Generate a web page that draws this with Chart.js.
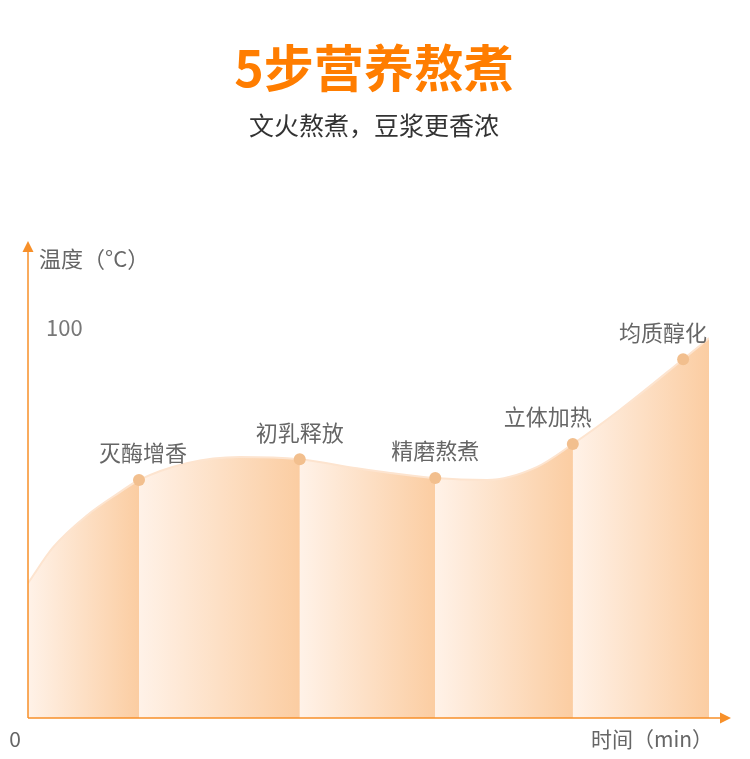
<!DOCTYPE html>
<html>
<head>
<meta charset="utf-8">
<script src="https://cdn.jsdelivr.net/npm/chart.js@4.4.1/dist/chart.umd.min.js"></script>
<style>
  html, body { margin: 0; padding: 0; background: #fff; }
  #chart { display: block; }
</style>
</head>
<body>
<canvas id="chart" width="750" height="759"></canvas>
<script>
// Curve (time in % of the run, temperature in °C)
const timeValues = [0, 3.7, 8.7, 13.5, 16.3, 23.3, 31.1, 39.9, 48.3, 53.2, 59.8, 67.4, 74.7, 80.0, 86.9, 96.2, 100];
const tempValues = [34.5, 43.7, 51.9, 57.8, 60.9, 65.2, 66.8, 66.2, 63.9, 62.7, 61.4, 60.9, 64.2, 70.1, 78.8, 91.8, 97.2];

// The five stages and where their markers sit on the curve
const stageNames = ['灭酶增香', '初乳释放', '精磨熬煮', '立体加热', '均质醇化'];
const stageTimes = [16.3, 39.9, 59.8, 80.0, 96.2];

// Shaded bands: each one ends at a stage marker, the last one at the curve end
const bandEdges = [0, 16.3, 39.9, 59.8, 80.0, 100];

const yTicks = [100];

const ORANGE = '#f7902a';
const LIGHT = '#fff2e8';
const DARK = '#fbcda2';
const TEXT = '#666666';
const CJK = '"Noto Sans CJK SC", "Noto Sans", sans-serif';

function bandGradient(context) {
  const chart = context.chart;
  const area = chart.chartArea;
  if (!area) return LIGHT;
  const x = chart.scales.x;
  const w = area.right - area.left;
  const g = chart.ctx.createLinearGradient(area.left, 0, area.right, 0);
  for (let i = 0; i < bandEdges.length - 1; i++) {
    const p0 = Math.min(1, Math.max(0, (x.getPixelForValue(bandEdges[i]) - area.left) / w));
    const p1 = Math.min(1, Math.max(0, (x.getPixelForValue(bandEdges[i + 1]) - area.left) / w));
    g.addColorStop(p0, LIGHT);
    g.addColorStop(Math.max(p0, p1 - 0.0005), DARK);
  }
  return g;
}

function isStage(i) {
  return stageTimes.indexOf(timeValues[i]) !== -1;
}

// Titles, axis arrows and text drawn on top of the chart
const decorations = {
  id: 'decorations',
  afterDatasetsDraw(chart) {
    const ctx = chart.ctx;
    const area = chart.chartArea;
    const ys = chart.scales.y;
    const left = area.left, bottom = area.bottom;

    ctx.save();

    // axes
    ctx.strokeStyle = ORANGE;
    ctx.fillStyle = ORANGE;
    ctx.lineWidth = 1.5;
    ctx.beginPath();
    ctx.moveTo(left, bottom);
    ctx.lineTo(left, 250);
    ctx.moveTo(left, bottom);
    ctx.lineTo(723, bottom);
    ctx.stroke();
    ctx.beginPath();
    ctx.moveTo(left, 241);
    ctx.lineTo(left - 5.5, 252);
    ctx.lineTo(left + 5.5, 252);
    ctx.closePath();
    ctx.fill();
    ctx.beginPath();
    ctx.moveTo(731, bottom);
    ctx.lineTo(720, bottom - 5.5);
    ctx.lineTo(720, bottom + 5.5);
    ctx.closePath();
    ctx.fill();

    // title + subtitle
    ctx.textAlign = 'center';
    ctx.textBaseline = 'middle';
    ctx.fillStyle = '#ff7d00';
    ctx.font = '700 50px ' + CJK;
    ctx.fillText('5步营养熬煮', 374, 68);
    ctx.fillStyle = '#333333';
    ctx.font = '400 25px ' + CJK;
    ctx.fillText('文火熬煮，豆浆更香浓', 374, 125);

    // axis texts
    ctx.fillStyle = TEXT;
    ctx.font = '400 22px ' + CJK;
    ctx.textAlign = 'left';
    ctx.fillText('温度（°C）', 39, 259);
    ctx.font = '400 21px ' + CJK;
    ctx.textAlign = 'right';
    ctx.fillText('时间（min）', 713, 739);
    ctx.textAlign = 'center';
    ctx.fillText('0', 15, 739);
    ctx.textAlign = 'left';
    ctx.fillStyle = '#777777';
    ctx.font = '400 22px ' + CJK;
    yTicks.forEach(v => ctx.fillText(String(v), 46, ys.getPixelForValue(v)));

    // stage labels above the markers
    const shifts = [4, 0, 0, -25, -20];
    ctx.fillStyle = TEXT;
    ctx.textAlign = 'center';
    ctx.font = '400 22px ' + CJK;
    const meta = chart.getDatasetMeta(0);
    stageTimes.forEach((t, k) => {
      const i = timeValues.indexOf(t);
      const pt = meta.data[i];
      ctx.fillText(stageNames[k], pt.x + shifts[k], pt.y - 27);
    });

    ctx.restore();
  }
};

new Chart(document.getElementById('chart'), {
  type: 'line',
  data: {
    datasets: [{
      data: timeValues.map((t, i) => ({ x: t, y: tempValues[i] })),
      fill: 'origin',
      backgroundColor: bandGradient,
      borderColor: '#fde4cf',
      borderWidth: 2,
      cubicInterpolationMode: 'monotone',
      pointRadius: ctx => isStage(ctx.dataIndex) ? 6 : 0,
      pointHoverRadius: ctx => isStage(ctx.dataIndex) ? 6 : 0,
      pointBackgroundColor: '#f2bf8e',
      pointBorderWidth: 0
    }]
  },
  options: {
    responsive: false,
    animation: false,
    devicePixelRatio: 1,
    layout: { padding: { left: 28, right: 41, top: 249, bottom: 41 } },
    plugins: {
      legend: { display: false },
      tooltip: { enabled: false }
    },
    events: [],
    scales: {
      x: { type: 'linear', min: 0, max: 100, display: false },
      y: { min: 0, max: 120, display: false }
    }
  },
  plugins: [decorations]
});
</script>
</body>
</html>
